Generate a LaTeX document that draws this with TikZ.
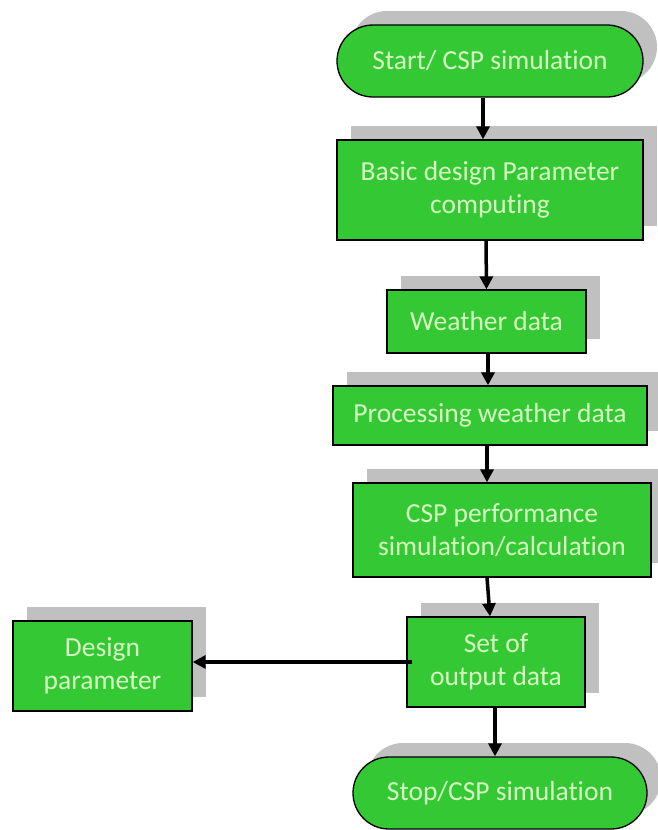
\documentclass[tikz,border=0pt]{standalone}
\usepackage{fontspec}
\setmainfont{Carlito}[Ligatures=NoCommon]
\usetikzlibrary{shadows}
\usetikzlibrary{arrows.meta}
\definecolor{boxgreen}{RGB}{52,200,52}
\definecolor{boxtext}{RGB}{215,248,195}
\definecolor{shade}{RGB}{192,192,192}
\tikzset{
  box/.style= {draw, line width=1.3pt, fill=boxgreen, text=boxtext, align=center, inner sep=2,
    font=\fontsize{27.5}{33}\selectfont,
    drop shadow={shadow xshift=14pt, shadow yshift=14pt, fill=shade, opacity=1}},
  term/.style= {box, rounded corners=36pt},
  flow/.style= {line width=3.5pt, -{Triangle[length=13pt, width=13pt]}},
}

\begin{document}
\begin{tikzpicture}[x=1pt, y=-1pt]
  \useasboundingbox (0,0) rectangle (657,830);

  \node [term, minimum width=306pt, minimum height=72pt] (start) at (490,61) {Start/ CSP simulation} ;
  \node [box, minimum width=306pt, minimum height=100pt] (basic) at (490,190) {Basic design Parameter\\computing} ;
  \node [box, minimum width=199pt, minimum height=63pt] (weather) at (486.5,321.5) {Weather data} ;
  \node [box, minimum width=314pt, minimum height=59pt] (proc) at (490,415.5) {Processing weather data} ;
  \node [box, minimum width=298pt, minimum height=94pt] (csp) at (502,530) {CSP performance\\simulation/calculation} ;
  \node [box, minimum width=178pt, minimum height=90pt] (out) at (496,662) {Set of\\output data} ;
  \node [box, minimum width=179pt, minimum height=90pt] (design) at (102.5,666) {Design\\parameter} ;
  \node [term, minimum width=294pt, minimum height=72pt] (stop) at (500,793) {Stop/CSP simulation} ;

  \draw [flow] ([xshift=-7pt]start.south) -- ([xshift=-7pt]basic.north) ;
  \draw [flow] ([xshift=-4pt]basic.south) -- (weather.north) ;
  \draw [flow] ([xshift=1.5pt]weather.south) -- ([xshift=-2pt]proc.north) ;
  \draw [flow] ([xshift=-3pt]proc.south) -- ([xshift=-15pt]csp.north) ;
  \draw [flow] ([xshift=-15pt]csp.south) -- ([xshift=-6pt]out.north) ;
  \draw [flow] ([xshift=6pt]out.west) -- (design.east |- out.west) ;
  \draw [flow] ([xshift=-1pt]out.south) -- ([xshift=-5pt]stop.north) ;
\end{tikzpicture}
\end{document}
